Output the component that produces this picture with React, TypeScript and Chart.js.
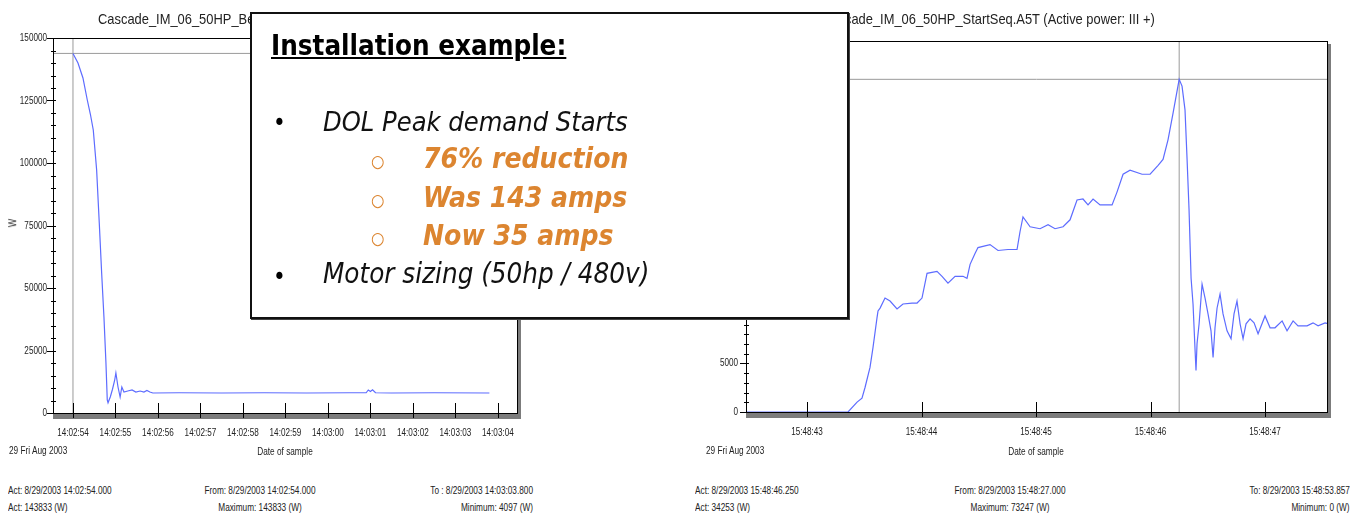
import React, { useEffect, useRef } from "react";
import { Chart, registerables } from "chart.js";

Chart.register(...registerables);

// ---------- DATA ----------
// Left chart: DOL start, seconds after 14:02:54, active power in W
const leftTimes = [0, 0.118, 0.235, 0.337, 0.41, 0.478, 0.557, 0.619, 0.675, 0.729, 0.776, 0.807, 0.825, 0.88, 0.93, 0.98, 1.01, 1.06, 1.11, 1.15, 1.2, 1.29, 1.39, 1.48, 1.58, 1.67, 1.74, 1.81, 1.88, 2.5, 3.5, 4.5, 5.5, 6.5, 6.9, 6.95, 7.0, 7.05, 7.12, 7.5, 8.5, 9.8];
const leftWatts = [143833, 140000, 134000, 125200, 119500, 113200, 97200, 76000, 56000, 38400, 20000, 5200, 4097, 6500, 9500, 13000, 16000, 10400, 6400, 10400, 8400, 8800, 9200, 8400, 8800, 8400, 9000, 8400, 8000, 8100, 8000, 8100, 8000, 8100, 8100, 9200, 8600, 9300, 8100, 8000, 8100, 8000];
const leftTickSeconds = [0, 1, 2, 3, 4, 5, 6, 7, 8, 9, 10];
const leftTickLabels = ["14:02:54", "14:02:55", "14:02:56", "14:02:57", "14:02:58", "14:02:59", "14:03:00", "14:03:01", "14:03:02", "14:03:03", "14:03:04"];
const leftYTicks = [0, 25000, 50000, 75000, 100000, 125000, 150000];
const leftCursorTime = 0;
const leftCursorWatts = 143833;
const leftRange = [-0.47, 10.45];
const leftYMax = 150000;

// Right chart: soft start, seconds within 15:48, active power in W
const rightTimes = [42.3, 43.358, 43.437, 43.48, 43.507, 43.55, 43.576, 43.611, 43.62, 43.638, 43.681, 43.725, 43.786, 43.838, 43.917, 43.961, 44.004, 44.048, 44.135, 44.179, 44.231, 44.293, 44.362, 44.397, 44.424, 44.467, 44.493, 44.598, 44.668, 44.755, 44.834, 44.86, 44.886, 44.948, 45.035, 45.105, 45.166, 45.236, 45.297, 45.358, 45.41, 45.454, 45.498, 45.559, 45.664, 45.707, 45.76, 45.821, 45.926, 45.996, 46.066, 46.109, 46.153, 46.197, 46.25, 46.275, 46.301, 46.319, 46.336, 46.354, 46.371, 46.389, 46.397, 46.406, 46.424, 46.45, 46.476, 46.502, 46.528, 46.546, 46.563, 46.581, 46.607, 46.633, 46.668, 46.703, 46.729, 46.755, 46.782, 46.808, 46.834, 46.869, 46.904, 46.939, 47.0, 47.044, 47.087, 47.149, 47.192, 47.245, 47.288, 47.367, 47.419, 47.463, 47.524, 47.585];
const rightWatts = [0, 0, 1020, 1430, 2550, 4590, 6630, 9690, 10400, 10700, 11730, 11420, 10610, 11120, 11220, 11220, 11730, 14280, 14480, 13970, 13260, 13970, 13970, 13770, 15200, 16320, 16930, 17240, 16630, 16730, 16730, 18560, 20090, 19070, 18870, 19280, 18870, 19070, 19790, 21830, 21930, 21320, 21930, 21320, 21320, 22640, 24480, 24890, 24480, 24480, 25400, 26010, 28050, 30800, 34253, 33560, 31110, 26010, 20910, 13770, 11120, 6320, 4280, 7040, 9080, 13160, 11730, 10100, 8360, 5610, 8670, 10710, 12140, 10100, 8360, 7550, 10100, 11420, 9080, 7550, 9080, 9590, 9180, 8060, 9890, 8670, 8670, 9380, 8360, 9380, 8870, 8870, 9180, 8870, 9180, 8970];
const rightTickSeconds = [43, 44, 45, 46, 47];
const rightTickLabels = ["15:48:43", "15:48:44", "15:48:45", "15:48:46", "15:48:47"];
const rightYTicks = [0, 5000, 10000, 15000, 20000, 25000, 30000, 35000];
const rightCursorTime = 46.25;
const rightCursorWatts = 34253;
const rightRange = [42.467, 47.541];
const rightYMax = 38200;

// ---------- STYLE ----------
const SANS = "'Liberation Sans', Arial, sans-serif";
const BOXFONT = "'DejaVu Sans Condensed','DejaVu Sans',Verdana,sans-serif";
const LINE = "#5d6cff";
const CURSOR = "#9a9a9a";
const ORANGE = "#dc8530";
const LABEL_SX = 0.74;

const framePlugin = {
  id: "frame",
  afterDraw(chart: any, _a: any, opts: any) {
    const { ctx, chartArea, scales } = chart;
    const { left, right, top, bottom } = chartArea;
    const x = scales.x;
    const y = scales.y;
    ctx.save();
    // 3D shadow
    ctx.fillStyle = "#7c7c7c";
    ctx.fillRect(left, bottom, right - left + 4, 6);
    ctx.fillRect(right, top + 3, 4, bottom - top + 3);
    // border
    ctx.strokeStyle = "#000";
    ctx.lineWidth = 1;
    ctx.strokeRect(Math.round(left) + 0.5, Math.round(top) + 0.5, Math.round(right - left), Math.round(bottom - top));
    // y ticks
    ctx.beginPath();
    for (let v = 0; v <= y.max + 1e-6; v += opts.minor) {
      const py = Math.round(y.getPixelForValue(v)) + 0.5;
      const major = opts.yticks.indexOf(v) >= 0;
      ctx.moveTo(left - (major ? 6 : 2), py);
      ctx.lineTo(left + 3, py);
    }
    // x ticks (inward + through the shadow)
    for (const s of opts.xticks) {
      const px = Math.round(x.getPixelForValue(s)) + 0.5;
      ctx.moveTo(px, bottom - 10);
      ctx.lineTo(px, bottom + 5);
    }
    ctx.stroke();
    // labels (narrow text)
    ctx.fillStyle = "#222";
    ctx.font = `11px ${SANS}`;
    ctx.textBaseline = "middle";
    opts.xticks.forEach((s: number, i: number) => {
      const px = x.getPixelForValue(s);
      ctx.save();
      ctx.translate(px, bottom + 20);
      ctx.scale(LABEL_SX, 1);
      ctx.textAlign = "center";
      ctx.fillText(opts.xlabels[i], 0, 0);
      ctx.restore();
    });
    opts.yticks.forEach((v: number) => {
      const py = y.getPixelForValue(v);
      ctx.save();
      ctx.translate(left - opts.ypad, py);
      ctx.scale(LABEL_SX, 1);
      ctx.textAlign = "right";
      ctx.fillText(String(v), 0, 0);
      ctx.restore();
    });
    ctx.restore();
  },
};

function makeConfig(p: {
  times: number[]; watts: number[]; range: number[]; ymax: number; yticks: number[]; minor: number;
  tickSeconds: number[]; tickLabels: string[]; cursorT: number; cursorW: number;
  padTop: number; padRight: number; yWidth: number; xHeight: number; yPad: number;
}) {
  return {
    type: "line",
    data: {
      datasets: [
        {
          data: p.times.map((t, i) => ({ x: t, y: p.watts[i] })),
          borderColor: LINE, borderWidth: 1.2, pointRadius: 0, tension: 0, fill: false,
        },
        {
          data: [{ x: p.range[0], y: p.cursorW }, { x: p.range[1], y: p.cursorW }],
          borderColor: CURSOR, borderWidth: 1, pointRadius: 0,
        },
        {
          data: [{ x: p.cursorT, y: 0 }, { x: p.cursorT, y: p.ymax }],
          borderColor: CURSOR, borderWidth: 1, pointRadius: 0,
        },
      ],
    },
    options: {
      animation: false, responsive: false, devicePixelRatio: 1,
      layout: { padding: { top: p.padTop, right: p.padRight, left: 0, bottom: 0 } },
      plugins: {
        legend: { display: false }, tooltip: { enabled: false },
        frame: { minor: p.minor, yticks: p.yticks, xticks: p.tickSeconds, xlabels: p.tickLabels, ypad: p.yPad },
      },
      scales: {
        x: {
          type: "linear", min: p.range[0], max: p.range[1],
          grid: { display: false, drawTicks: false }, border: { display: false },
          ticks: { display: false },
          afterBuildTicks: (s: any) => { s.ticks = p.tickSeconds.map((v) => ({ value: v })); },
          afterFit: (s: any) => { s.height = p.xHeight; },
        },
        y: {
          type: "linear", min: 0, max: p.ymax,
          grid: { display: false, drawTicks: false }, border: { display: false },
          ticks: { display: false },
          afterBuildTicks: (s: any) => { s.ticks = p.yticks.map((v) => ({ value: v })); },
          afterFit: (s: any) => { s.width = p.yWidth; },
        },
      },
    },
    plugins: [framePlugin],
  } as any;
}

function ChartCanvas({ cfg, w, h, style }: { cfg: any; w: number; h: number; style: any }) {
  const ref = useRef<HTMLCanvasElement>(null);
  useEffect(() => {
    const c = new Chart(ref.current as HTMLCanvasElement, cfg);
    return () => c.destroy();
  }, []);
  return <canvas ref={ref} width={w} height={h} style={{ position: "absolute", width: w, height: h, ...style }} />;
}

function T({ x, y, size, children, align = "left", sx = 1, style = {} }: any) {
  const base: any = { position: "absolute", top: y - size * 0.585, fontSize: size, lineHeight: `${size * 1.2}px`, whiteSpace: "nowrap", margin: 0 };
  if (align === "left") { base.left = x; base.transformOrigin = "left center"; base.transform = `scaleX(${sx})`; }
  else if (align === "right") { base.right = 1359 - x; base.transformOrigin = "right center"; base.transform = `scaleX(${sx})`; }
  else { base.left = x; base.transformOrigin = "center center"; base.transform = `translateX(-50%) scaleX(${sx})`; }
  return <div style={{ ...base, ...style }}>{children}</div>;
}

const small = { fontFamily: SANS, color: "#222" };
const SX = 0.75;

export default function App() {
  useEffect(() => {
    document.body.style.margin = "0";
  }, []);

  const leftCfg = makeConfig({
    times: leftTimes, watts: leftWatts, range: leftRange, ymax: leftYMax, yticks: leftYTicks, minor: 5000,
    tickSeconds: leftTickSeconds, tickLabels: leftTickLabels, cursorT: leftCursorTime, cursorW: leftCursorWatts,
    padTop: 38, padRight: 23, yWidth: 53, xHeight: 32, yPad: 6,
  });
  const rightCfg = makeConfig({
    times: rightTimes, watts: rightWatts, range: rightRange, ymax: rightYMax, yticks: rightYTicks, minor: 1000,
    tickSeconds: rightTickSeconds, tickLabels: rightTickLabels, cursorT: rightCursorTime, cursorW: rightCursorWatts,
    padTop: 41, padRight: 32, yWidth: 66, xHeight: 33, yPad: 8,
  });

  return (
    <div style={{ position: "fixed", left: 0, top: 0, width: 1359, height: 517, background: "#fff", overflow: "hidden" }}>
      <ChartCanvas cfg={leftCfg} w={540} h={445} style={{ left: 0, top: 0 }} />
      <ChartCanvas cfg={rightCfg} w={679} h={445} style={{ left: 680, top: 0 }} />

      {/* chart titles */}
      <T x={98} y={19} size={15} sx={0.86} style={small}>Cascade_IM_06_50HP_Before.A5T (Active power: III +)</T>
      <T x={822} y={19} size={15} sx={0.86} style={small}>Cascade_IM_06_50HP_StartSeq.A5T (Active power: III +)</T>

      {/* y axis unit */}
      <div style={{ position: "absolute", left: 7, top: 217, fontFamily: SANS, fontSize: 11, color: "#222", transform: "rotate(-90deg) scaleX(0.8)" }}>W</div>

      {/* under-axis texts */}
      <T x={9} y={450} size={11} sx={SX} style={small}>29 Fri Aug 2003</T>
      <T x={285} y={451} size={11} sx={SX} align="center" style={small}>Date of sample</T>
      <T x={706} y={450} size={11} sx={SX} style={small}>29 Fri Aug 2003</T>
      <T x={1036} y={451} size={11} sx={SX} align="center" style={small}>Date of sample</T>

      {/* footers */}
      <T x={8} y={490} size={11} sx={SX} style={small}>Act: 8/29/2003 14:02:54.000</T>
      <T x={8} y={507} size={11} sx={SX} style={small}>Act: 143833 (W)</T>
      <T x={260} y={490} size={11} sx={SX} align="center" style={small}>From: 8/29/2003 14:02:54.000</T>
      <T x={260} y={507} size={11} sx={SX} align="center" style={small}>Maximum: 143833 (W)</T>
      <T x={533} y={490} size={11} sx={SX} align="right" style={small}>To : 8/29/2003 14:03:03.800</T>
      <T x={533} y={507} size={11} sx={SX} align="right" style={small}>Minimum: 4097 (W)</T>

      <T x={695} y={490} size={11} sx={SX} style={small}>Act: 8/29/2003 15:48:46.250</T>
      <T x={695} y={507} size={11} sx={SX} style={small}>Act: 34253 (W)</T>
      <T x={1010} y={490} size={11} sx={SX} align="center" style={small}>From: 8/29/2003 15:48:27.000</T>
      <T x={1010} y={507} size={11} sx={SX} align="center" style={small}>Maximum: 73247 (W)</T>
      <T x={1350} y={490} size={11} sx={SX} align="right" style={small}>To: 8/29/2003 15:48:53.857</T>
      <T x={1350} y={507} size={11} sx={SX} align="right" style={small}>Minimum: 0 (W)</T>

      {/* overlay text box */}
      <div style={{ position: "absolute", left: 250, top: 12, width: 595, height: 303, border: "2px solid #111", background: "#fff", boxShadow: "1px 1px 0 #444" }} />
      <T x={271} y={45} size={27.5} style={{ fontFamily: BOXFONT, fontWeight: "bold", textDecoration: "underline", color: "#000" }}>Installation example:</T>
      <T x={273} y={123} size={24} style={{ fontFamily: BOXFONT, color: "#000" }}>•</T>
      <T x={323} y={122} size={27} style={{ fontFamily: BOXFONT, fontStyle: "italic", color: "#111" }}>DOL Peak demand Starts</T>
      <T x={371} y={161} size={17} style={{ fontFamily: BOXFONT, color: ORANGE }}>○</T>
      <T x={423} y={158} size={28} style={{ fontFamily: BOXFONT, fontStyle: "italic", fontWeight: "bold", color: ORANGE }}>76% reduction</T>
      <T x={371} y={200} size={17} style={{ fontFamily: BOXFONT, color: ORANGE }}>○</T>
      <T x={423} y={197} size={28} style={{ fontFamily: BOXFONT, fontStyle: "italic", fontWeight: "bold", color: ORANGE }}>Was 143 amps</T>
      <T x={371} y={238} size={17} style={{ fontFamily: BOXFONT, color: ORANGE }}>○</T>
      <T x={423} y={235} size={28} style={{ fontFamily: BOXFONT, fontStyle: "italic", fontWeight: "bold", color: ORANGE }}>Now 35 amps</T>
      <T x={273} y={277} size={24} style={{ fontFamily: BOXFONT, color: "#000" }}>•</T>
      <T x={323} y={273} size={27.5} style={{ fontFamily: BOXFONT, fontStyle: "italic", color: "#111" }}>Motor sizing (50hp / 480v)</T>
    </div>
  );
}
